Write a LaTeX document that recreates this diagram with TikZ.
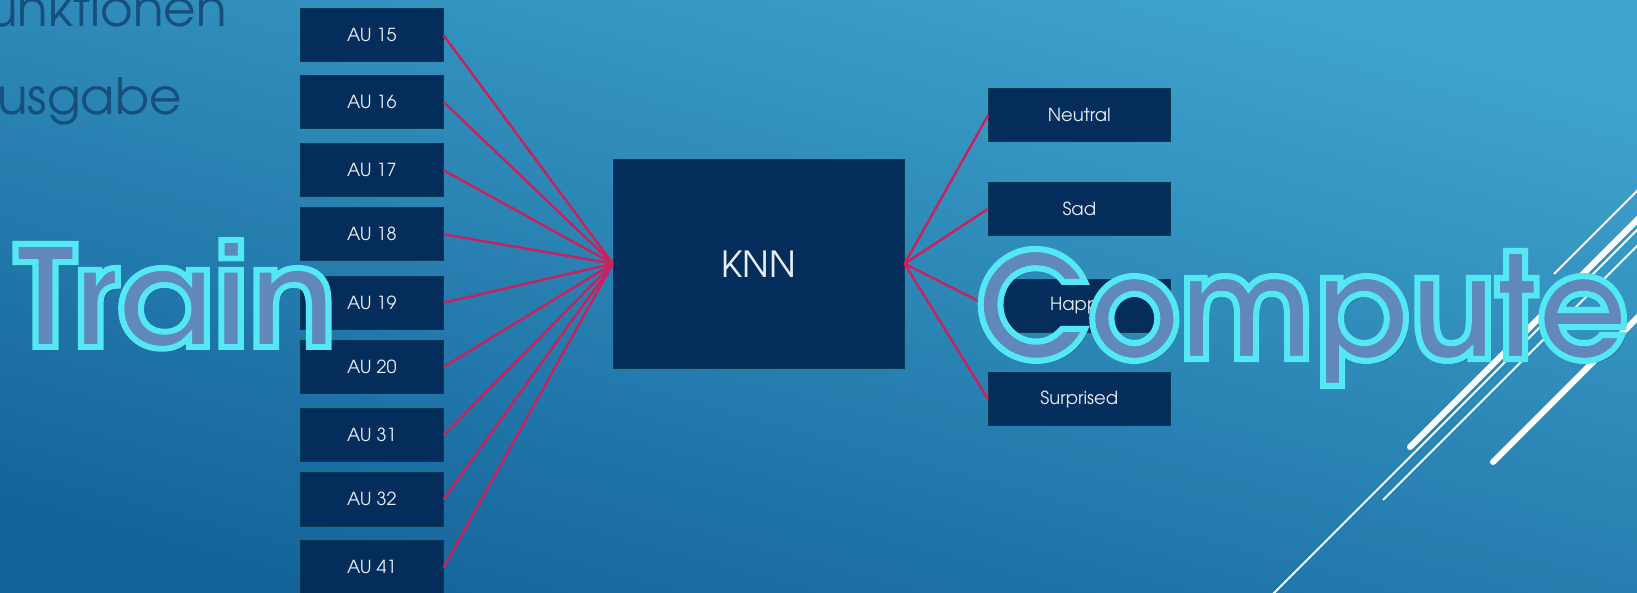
\documentclass[tikz,border=0pt]{standalone}
\usepackage{fontspec}
\setmainfont{texgyreadventor}[Extension=.otf, UprightFont=*-regular, BoldFont=*-bold]
\usepackage{graphicx}

\definecolor{bgtop}{RGB}{64,164,206}
\definecolor{bgbot}{RGB}{20,100,154}
\definecolor{boxfill}{RGB}{4,45,92}
\definecolor{boxedge}{RGB}{10,58,82}
\definecolor{boxtext}{RGB}{232,238,245}
\definecolor{linkred}{RGB}{204,32,92}
\definecolor{glyphfill}{RGB}{96,136,186}
\definecolor{headtext}{RGB}{22,78,124}

% filled glyphs with a cyan stroke round them (PDF text render mode 2)
\newcommand\strokedglyphs[1]{\special{pdf:literal 0.33 0.91 0.96 RG 0.42 w 2 Tr}#1\special{pdf:literal 0 Tr}}

\begin{document}
\begin{tikzpicture}[x=0.5pt,y=-0.5pt,
  aubox/.style={draw=boxedge, line width=0.5pt, fill=boxfill,
    minimum width=71.2pt, minimum height=26.7pt, inner sep=0pt,
    text=boxtext, font=\fontsize{9}{11}\selectfont},
  outbox/.style={aubox, minimum width=90.7pt, minimum height=26.6pt},
  knnbox/.style={aubox, minimum width=145.3pt, minimum height=104.3pt,
    font=\fontsize{18}{22}\selectfont},
  link/.style={draw=linkred, line width=1.2pt},
  stripe/.style={draw=white, line width=1pt},
  bar/.style={draw=white, line width=3pt, line cap=round},
  headline/.style={inner sep=0pt, anchor=base east, text=headtext,
    font=\fontsize{25}{30}\selectfont},
  bigword/.style={inner sep=0pt, anchor=base west, text=glyphfill},
  bigshadow/.style={inner sep=0pt, anchor=base west, text=black, opacity=0.25},
]
\useasboundingbox (0,0) rectangle (1637,593);
\begin{scope}
\clip (0,0) rectangle (1637,593);
\shade[top color=bgtop, bottom color=bgbot, shading angle=-15] (-2,-2) rectangle (1639,595);

% list text at the upper left
\node[headline] (list1) at (227,27) {unktionen};
\node[headline] (list2) at (182,115) {usgabe};

% diagonal stripes at the right
\draw[stripe] (1554,274) -- (1660,168);
\draw[bar]    (1410,447) -- (1660,197);
\draw[stripe] (1264,603) -- (1660,207);
\draw[stripe] (1383,500) -- (1660,223);
\draw[bar]    (1493,462) -- (1660,295);

% input features
\node[aubox] (au15) at (371.9,35.3)  {AU 15};
\node[aubox] (au16) at (371.9,102.0) {AU 16};
\node[aubox] (au17) at (371.9,170.3) {AU 17};
\node[aubox] (au18) at (371.9,234.3) {AU 18};
\node[aubox] (au19) at (371.9,302.7) {AU 19};
\node[aubox] (au20) at (371.9,367.0) {AU 20};
\node[aubox] (au31) at (371.9,435.2) {AU 31};
\node[aubox] (au32) at (371.9,499.3) {AU 32};
\node[aubox] (au41) at (371.9,567.4) {AU 41};

% classifier
\node[knnbox] (knn) at (758.7,263.7) {KNN};

% output classes
\node[outbox] (neutral)   at (1079.3,115.2) {Neutral};
\node[outbox] (sad)       at (1079.3,208.8) {Sad};
\node[outbox] (happy)     at (1079.3,306.0) {Happy};
\node[outbox] (surprised) at (1079.3,399.3) {Surprised};

\foreach \n in {au15,au16,au17,au18,au19,au20,au31,au32,au41}
  \draw[link] (\n.east) -- (knn.west);
\foreach \n in {neutral,sad,happy,surprised}
  \draw[link] (knn.east) -- (\n.west);

% large outlined words
\node[bigshadow] at (17,350) {\resizebox{161pt}{53.5pt}{\bfseries Train}};
\node[bigword] (train) at (14,347) {\resizebox{161pt}{53.5pt}{\bfseries\strokedglyphs{Train}}};
\node[bigshadow] at (979,362) {\resizebox{326pt}{55pt}{\bfseries Compute}};
\node[bigword] (compute) at (976,359) {\resizebox{326pt}{55pt}{\bfseries\strokedglyphs{Compute}}};
\end{scope}
\end{tikzpicture}
\end{document}
